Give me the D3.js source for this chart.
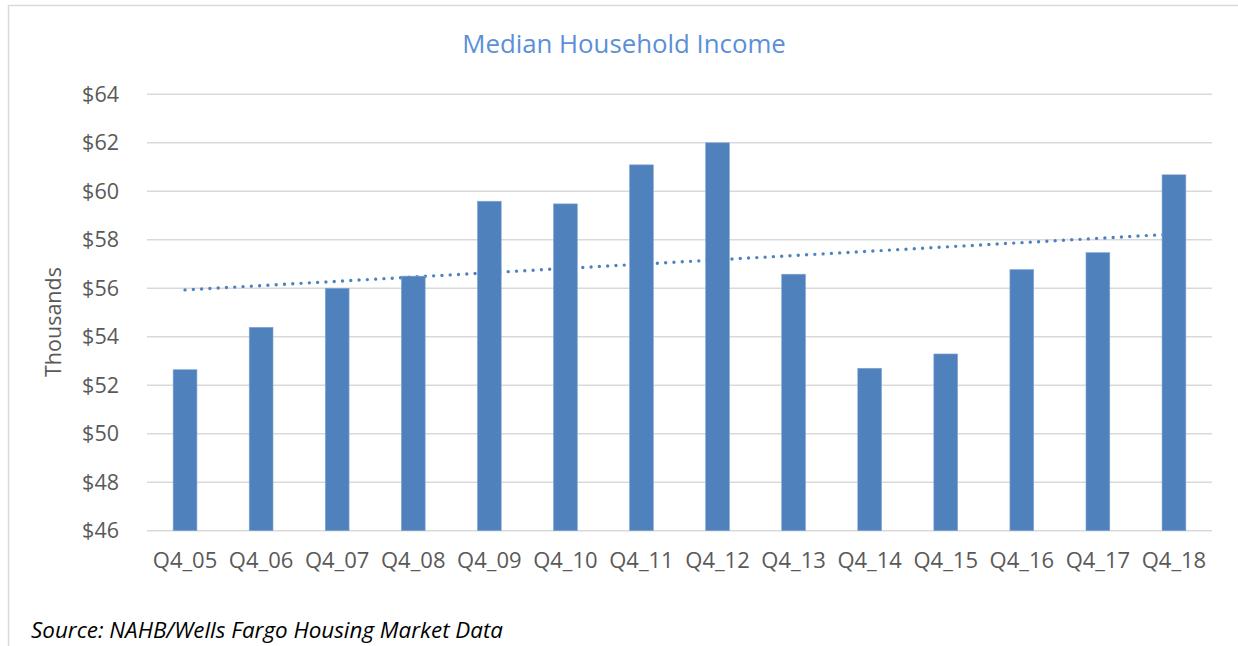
<!DOCTYPE html>
<meta charset="utf-8">
<style>
  body { margin: 0; background: #fff; }
  svg { display: block; font-family: "Open Sans", sans-serif; }
</style>
<body>
<div id="chart"></div>
<script src="https://d3js.org/d3.v7.min.js"></script>
<script>
  // values, in thousands of dollars
  var quarters = ["Q4_05","Q4_06","Q4_07","Q4_08","Q4_09","Q4_10","Q4_11","Q4_12","Q4_13","Q4_14","Q4_15","Q4_16","Q4_17","Q4_18"];
  var income = [52.64, 54.39, 56.0, 56.5, 59.59, 59.48, 61.09, 62.0, 56.58, 52.7, 53.29, 56.77, 57.47, 60.68];
  var yTicks = [46, 48, 50, 52, 54, 56, 58, 60, 62, 64];

  var W = 1238, H = 646;
  var margin = {top: 94.3, right: 26, bottom: 115.3, left: 147};
  var barBlue = "#4f81bd";

  var svg = d3.select("#chart").append("svg")
    .attr("width", W)
    .attr("height", H);

  // chart area frame (left and top edges show in the picture)
  svg.append("path")
    .attr("d", "M8.5," + H + "V5.5H" + W)
    .attr("fill", "none")
    .attr("stroke", "#d9d9d9")
    .attr("stroke-width", 1.5);

  var x = d3.scaleBand()
    .domain(quarters)
    .range([margin.left, W - margin.right])
    .paddingInner(0.687)
    .paddingOuter(0.3435);

  var y = d3.scaleLinear()
    .domain([46, 64])
    .range([H - margin.bottom, margin.top]);

  // gridlines
  svg.append("g")
    .selectAll("line")
    .data(yTicks)
    .enter().append("line")
    .attr("x1", margin.left)
    .attr("x2", W - margin.right)
    .attr("y1", d => y(d))
    .attr("y2", d => y(d))
    .attr("stroke", "#d9d9d9")
    .attr("stroke-width", 1.5);

  // y axis labels
  var yAxis = d3.axisLeft(y)
    .tickValues(yTicks)
    .tickSize(0)
    .tickPadding(28)
    .tickFormat(d => "$" + d);
  svg.append("g")
    .attr("transform", "translate(" + margin.left + ",0)")
    .call(yAxis)
    .call(g => g.select(".domain").remove())
    .selectAll("text")
    .attr("font-family", "Open Sans, sans-serif")
    .attr("font-size", 21.5)
    .attr("fill", "#595959");

  // x axis labels
  var xAxis = d3.axisBottom(x).tickSize(0).tickPadding(22);
  svg.append("g")
    .attr("transform", "translate(0," + (H - margin.bottom) + ")")
    .call(xAxis)
    .call(g => g.select(".domain").remove())
    .selectAll("text")
    .attr("font-family", "Open Sans, sans-serif")
    .attr("font-size", 22)
    .attr("fill", "#595959");

  // linear trendline (least squares over the bars), drawn under the bars
  var n = income.length;
  var mx = d3.mean(income, (d, i) => i);
  var my = d3.mean(income);
  var sxy = d3.sum(income, (d, i) => (i - mx) * (d - my));
  var sxx = d3.sum(income, (d, i) => (i - mx) * (i - mx));
  var slope = sxy / sxx;
  var icpt = my - slope * mx;
  var trend = [0, n - 1].map(i => ({q: quarters[i], v: icpt + slope * i}));

  svg.append("path")
    .datum(trend)
    .attr("d", d3.line()
      .x(d => x(d.q) + x.bandwidth() / 2)
      .y(d => y(d.v)))
    .attr("fill", "none")
    .attr("stroke", barBlue)
    .attr("stroke-width", 3.4)
    .attr("stroke-linecap", "round")
    .attr("stroke-dasharray", "0 8.3");

  // bars
  svg.append("g")
    .selectAll("rect")
    .data(income)
    .enter().append("rect")
    .attr("x", (d, i) => x(quarters[i]))
    .attr("width", x.bandwidth())
    .attr("y", d => y(d))
    .attr("height", d => y(46) - y(d))
    .attr("fill", barBlue)
    .attr("stroke", "#86a7d3")
    .attr("stroke-width", 0.6);

  // title
  svg.append("text")
    .attr("x", 624)
    .attr("y", 53)
    .attr("text-anchor", "middle")
    .attr("font-size", 25.8)
    .attr("fill", "#5b8fd8")
    .text("Median Household Income");

  // y axis title
  svg.append("text")
    .attr("transform", "translate(61,322) rotate(-90)")
    .attr("text-anchor", "middle")
    .attr("font-size", 21.5)
    .attr("fill", "#595959")
    .text("Thousands");

  // source note
  svg.append("text")
    .attr("x", 31)
    .attr("y", 638)
    .attr("font-size", 22.4)
    .attr("font-style", "italic")
    .attr("fill", "#000")
    .text("Source: NAHB/Wells Fargo Housing Market Data");
</script>
</body>
